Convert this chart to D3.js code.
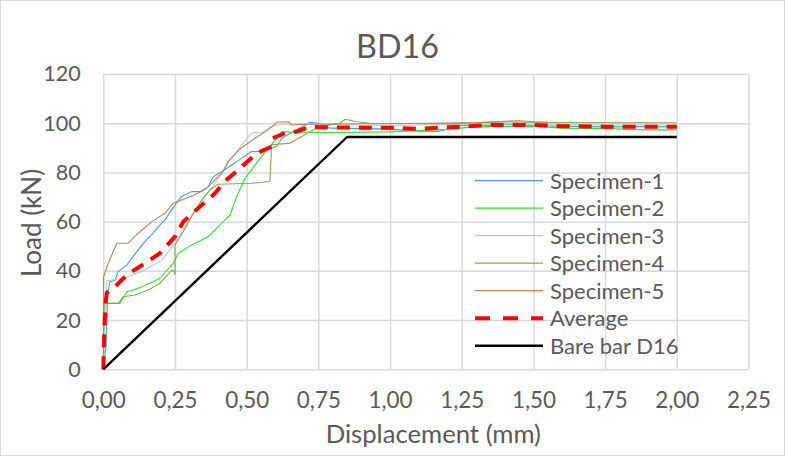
<!DOCTYPE html>
<html>
<head>
<meta charset="utf-8">
<title>BD16 load vs displacement</title>
<script src="https://cdn.jsdelivr.net/npm/d3@7/dist/d3.min.js"></script>
<style>
body { margin: 0; background: #fff; }
text { font-family: Lato, "Liberation Sans", sans-serif; fill: #595959; }
</style>
</head>
<body>
<svg class="chart"></svg>
<script>
// data: [displacement mm, load kN]
var spec1 = [[0,0],[0.01,10],[0.015,30],[0.023,35.6],[0.041,36.3],[0.052,39.7],[0.082,42.4],[0.099,45.1],[0.122,48.5],[0.145,51.9],[0.174,55.3],[0.192,58],[0.215,60.7],[0.25,66.8],[0.273,70.2],[0.308,72.2],[0.343,72.2],[0.366,74.2],[0.384,78.3],[0.413,80.3],[0.448,83],[0.483,85.8],[0.517,88.5],[0.552,88.5],[0.605,90.5],[0.622,93.9],[0.663,96.6],[0.721,100.4],[0.75,100],[0.79,98],[0.9,97.8],[1.0,97.6],[1.1,96.8],[1.17,96.7],[1.25,99.2],[1.3,98.7],[1.4,99.6],[1.5,99],[1.6,98.8],[1.75,98.5],[1.9,98.6],[2.0,98.5]];
var spec2 = [[0,0],[0.004,20],[0.006,26.8],[0.058,26.8],[0.082,31.5],[0.122,32.9],[0.163,35],[0.198,37],[0.244,43.1],[0.262,47.2],[0.308,50.5],[0.366,53.9],[0.407,58.7],[0.442,62.7],[0.465,70.2],[0.494,77.6],[0.529,83],[0.57,89.1],[0.605,93.9],[0.622,96.6],[0.65,96.4],[0.79,96.2],[1.0,96.5],[1.1,97],[1.2,97.5],[1.3,98.6],[1.5,98.8],[1.6,98],[1.75,97.8],[1.9,97.3],[2.0,97.3]];
var spec3 = [[0,0],[0.005,25],[0.012,36],[0.04,36.5],[0.087,37.6],[0.145,40.4],[0.204,44.4],[0.25,51.2],[0.291,59.3],[0.32,64.8],[0.355,70.2],[0.389,75.6],[0.418,80.3],[0.436,84.4],[0.459,87.1],[0.483,91.2],[0.506,94.6],[0.523,96.2],[0.552,96],[0.575,98],[0.605,99.3],[0.7,100],[0.8,99.5],[1.0,99],[1.2,99.5],[1.5,99.8],[1.75,99.3],[2.0,99.3]];
var spec4 = [[0,0],[0.002,26.8],[0.052,26.8],[0.07,29.5],[0.11,30.2],[0.157,32.2],[0.198,35],[0.238,40.2],[0.246,40],[0.25,38.5],[0.25,50.5],[0.279,55.9],[0.308,62],[0.343,68.8],[0.372,72.9],[0.401,75.2],[0.517,75.6],[0.581,76.3],[0.587,91.2],[0.651,91.9],[0.692,94.6],[0.721,96.6],[0.756,98.6],[0.825,100],[0.843,101.6],[0.884,100.6],[0.93,100],[1.2,99.8],[1.4,100.5],[1.6,100.3],[1.8,100.2],[2.0,100.2]];
var spec5 = [[0,0],[0.001,37.6],[0.017,43],[0.047,51.2],[0.085,51.2],[0.122,55.3],[0.169,60],[0.215,63.4],[0.244,67.5],[0.273,68.8],[0.32,70.9],[0.366,74.2],[0.413,79.7],[0.436,84.4],[0.471,89.1],[0.529,93.9],[0.575,97.3],[0.605,100.4],[0.645,100.6],[0.657,99.3],[0.709,99.6],[0.9,99.8],[1.14,100],[1.3,100.3],[1.4,100.8],[1.45,101],[1.5,100.6],[1.55,100.4]];
var average = [[0,0],[0.003,14],[0.007,26],[0.012,31],[0.023,32.2],[0.041,33.6],[0.082,38.3],[0.145,43.1],[0.198,47.2],[0.25,53.9],[0.279,60],[0.337,66.1],[0.384,70.9],[0.43,77],[0.477,81.7],[0.535,87.8],[0.587,90.5],[0.591,93.9],[0.639,96.2],[0.674,96.6],[0.721,98.6],[0.756,98.4],[0.884,98.2],[1.0,98.2],[1.093,97.7],[1.14,98],[1.25,98.6],[1.35,99.3],[1.5,99.3],[1.6,98.8],[1.75,98.6],[2.0,98.6]];
var bareBar = [[0,0],[0.85,94.4],[2.0,94.4]];

var seriesNames = ["Specimen-1","Specimen-2","Specimen-3","Specimen-4","Specimen-5","Average","Bare bar D16"];
var xTicks = [0,0.25,0.5,0.75,1,1.25,1.5,1.75,2,2.25];
var yTicks = [0,20,40,60,80,100,120];

var series = [spec1, spec2, spec3, spec4, spec5, average, bareBar];
var colors = ["#4f95ec","#2fe22f","#c6c6c6","#86aa48","#b9845e","#ff0000","#000000"];
var widths = [1.1,1.1,1.1,1.1,1.1,4,2.4];

var W = 785, H = 456;
var margin = {top: 74, right: 36.5, bottom: 86.7, left: 103.3};
var width = W - margin.left - margin.right;
var height = H - margin.top - margin.bottom;

var svg = d3.select(".chart").attr("width", W).attr("height", H);

// outer chart border
svg.append("rect")
	.attr("x", 0.5).attr("y", 0.5)
	.attr("width", W - 1).attr("height", H - 1)
	.attr("fill", "#fff").attr("stroke", "#d9d9d9");

var chart = svg.append("g")
	.attr("transform", "translate(" + margin.left + "," + margin.top + ")");

var x = d3.scaleLinear().domain([0, 2.25]).range([0, width]);
var y = d3.scaleLinear().domain([0, 120]).range([height, 0]);

var fmt = function(d){ return d3.format(".2f")(d).replace(".", ","); };

//gridlines
chart.append("g")
	.attr("class", "grid")
	.call(d3.axisLeft(y).tickValues(yTicks).tickSize(-width).tickFormat(""));
chart.append("g")
	.attr("class", "grid")
	.attr("transform", "translate(0," + height + ")")
	.call(d3.axisBottom(x).tickValues(xTicks).tickSize(height).tickFormat(""))
	.selectAll("line").attr("y2", -height);
chart.selectAll(".grid .domain").remove();
chart.selectAll(".grid line").attr("stroke", "#d9d9d9").attr("stroke-width", 1.5);

//tick labels
var yAx = chart.append("g")
	.call(d3.axisLeft(y).tickValues(yTicks).tickSize(0).tickPadding(22.6));
var xAx = chart.append("g")
	.attr("transform", "translate(0," + height + ")")
	.call(d3.axisBottom(x).tickValues(xTicks).tickSize(0).tickFormat(fmt));
xAx.selectAll("text").attr("y", 38.4).attr("dy", null);
yAx.selectAll("text").attr("font-size", 21.6);
xAx.selectAll("text").attr("font-size", 22.4);
[yAx, xAx].forEach(function(a){
	a.select(".domain").remove();
	a.selectAll("text").attr("font-family", null).attr("fill", "#595959");
});

//lines
var line = d3.line().x(function(d){ return x(d[0]); }).y(function(d){ return y(d[1]); });
chart.selectAll(".series")
	.data(series)
	.enter()
	.append("path")
	.attr("class", "series")
	.attr("d", line)
	.attr("fill", "none")
	.attr("stroke", function(d, i){ return colors[i]; })
	.attr("stroke-width", function(d, i){ return widths[i]; })
	.attr("stroke-dasharray", function(d, i){ return i === 5 ? "13,9" : null; })
	.attr("stroke-linejoin", "round");

//legend
var legend = svg.append("g").attr("transform", "translate(475,180.7)");
var rows = legend.selectAll(".row")
	.data(seriesNames)
	.enter()
	.append("g")
	.attr("class", "row")
	.attr("transform", function(d, i){ return "translate(0," + (i * 27.5) + ")"; });
rows.append("line")
	.attr("x1", 0).attr("x2", 68)
	.attr("stroke", function(d, i){ return colors[i]; })
	.attr("stroke-width", function(d, i){ return i === 5 ? 4 : (i === 6 ? 2.4 : 1.3); })
	.attr("stroke-dasharray", function(d, i){ return i === 5 ? "15,13" : null; });
rows.append("text")
	.attr("x", 75)
	.attr("dy", "0.36em")
	.attr("font-size", 22)
	.text(function(d){ return d; });

//titles
svg.append("text")
	.attr("x", 397.5).attr("y", 58.3)
	.attr("text-anchor", "middle")
	.attr("font-size", 32.3)
	.text("BD16");

svg.append("text")
	.attr("x", 433.3).attr("y", 443.3)
	.attr("text-anchor", "middle")
	.attr("font-size", 25.7)
	.text("Displacement (mm)");

svg.append("text")
	.attr("transform", "translate(41,223) rotate(-90)")
	.attr("text-anchor", "middle")
	.attr("font-size", 26)
	.text("Load (kN)");
</script>
</body>
</html>
